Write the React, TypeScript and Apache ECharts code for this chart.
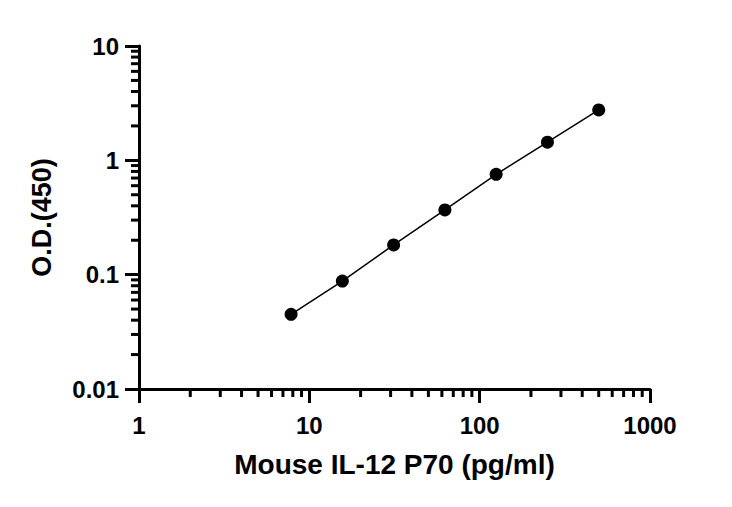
import React, { useEffect, useRef } from "react";
import * as echarts from "echarts";

const concentrations = [7.8125, 15.625, 31.25, 62.5, 125, 250, 500];
const odValues = [0.045, 0.088, 0.182, 0.368, 0.755, 1.44, 2.76];

const xRange = [1, 1000];
const yRange = [0.01, 10];
const mantissas = [2, 3, 4, 5, 6, 7, 8, 9];
const xDecades = [1, 10, 100];
const yDecades = [0.01, 0.1, 1];

const FONT = "'Liberation Sans', Arial, Helvetica, sans-serif";

export default function App() {
  const ref = useRef<HTMLDivElement>(null);

  useEffect(() => {
    if (!ref.current) return;
    const chart = echarts.init(ref.current, undefined, { renderer: "svg" });

    const xMinor: number[][] = [];
    xDecades.forEach((d) => mantissas.forEach((m) => xMinor.push([Number((d * m).toPrecision(6)), yRange[0]])));
    const yMinor: number[][] = [];
    yDecades.forEach((d) => mantissas.forEach((m) => yMinor.push([xRange[0], Number((d * m).toPrecision(6))])));

    const fmt = (v: number) => String(Number(v.toPrecision(6)));

    chart.setOption({
      animation: false,
      backgroundColor: "#ffffff",
      grid: { left: 139, right: 82, top: 46, bottom: 118 },
      xAxis: {
        type: "log",
        logBase: 10,
        min: xRange[0],
        max: xRange[1],
        name: "Mouse IL-12 P70 (pg/ml)",
        nameLocation: "middle",
        nameGap: 61,
        nameTextStyle: { fontFamily: FONT, fontWeight: "bold", fontSize: 28, color: "#000" },
        axisLine: { show: true, lineStyle: { color: "#000", width: 3 } },
        axisTick: { show: true, length: 14, lineStyle: { color: "#000", width: 3 } },
        axisLabel: { fontFamily: FONT, fontWeight: "bold", fontSize: 24, color: "#000", margin: 24, formatter: fmt },
        splitLine: { show: false },
        minorTick: { show: false },
      },
      yAxis: {
        type: "log",
        logBase: 10,
        min: yRange[0],
        max: yRange[1],
        name: "O.D.(450)",
        nameLocation: "middle",
        nameGap: 84,
        nameRotate: 90,
        nameTextStyle: { fontFamily: FONT, fontWeight: "bold", fontSize: 27, color: "#000" },
        axisLine: { show: true, lineStyle: { color: "#000", width: 3 } },
        axisTick: { show: true, length: 14, lineStyle: { color: "#000", width: 3 } },
        axisLabel: { fontFamily: FONT, fontWeight: "bold", fontSize: 24, color: "#000", margin: 20, formatter: fmt },
        splitLine: { show: false },
        minorTick: { show: false },
      },
      series: [
        {
          type: "custom",
          clip: false,
          silent: true,
          data: xMinor,
          renderItem: (params: any, api: any) => {
            const p = api.coord([api.value(0), api.value(1)]);
            return {
              type: "line",
              shape: { x1: p[0], y1: p[1], x2: p[0], y2: p[1] + 8 },
              style: { stroke: "#000", lineWidth: 3 },
            };
          },
        },
        {
          type: "custom",
          clip: false,
          silent: true,
          data: yMinor,
          renderItem: (params: any, api: any) => {
            const p = api.coord([api.value(0), api.value(1)]);
            return {
              type: "line",
              shape: { x1: p[0] - 8, y1: p[1], x2: p[0], y2: p[1] },
              style: { stroke: "#000", lineWidth: 3 },
            };
          },
        },
        {
          type: "line",
          data: concentrations.map((c, i) => [c, odValues[i]]),
          symbol: "circle",
          symbolSize: 13,
          lineStyle: { color: "#000", width: 1.5 },
          itemStyle: { color: "#000" },
          z: 5,
        },
      ],
    });

    return () => chart.dispose();
  }, []);

  return (
    <div
      ref={ref}
      style={{ position: "fixed", left: 0, top: 0, width: 732, height: 507, background: "#fff" }}
    />
  );
}
